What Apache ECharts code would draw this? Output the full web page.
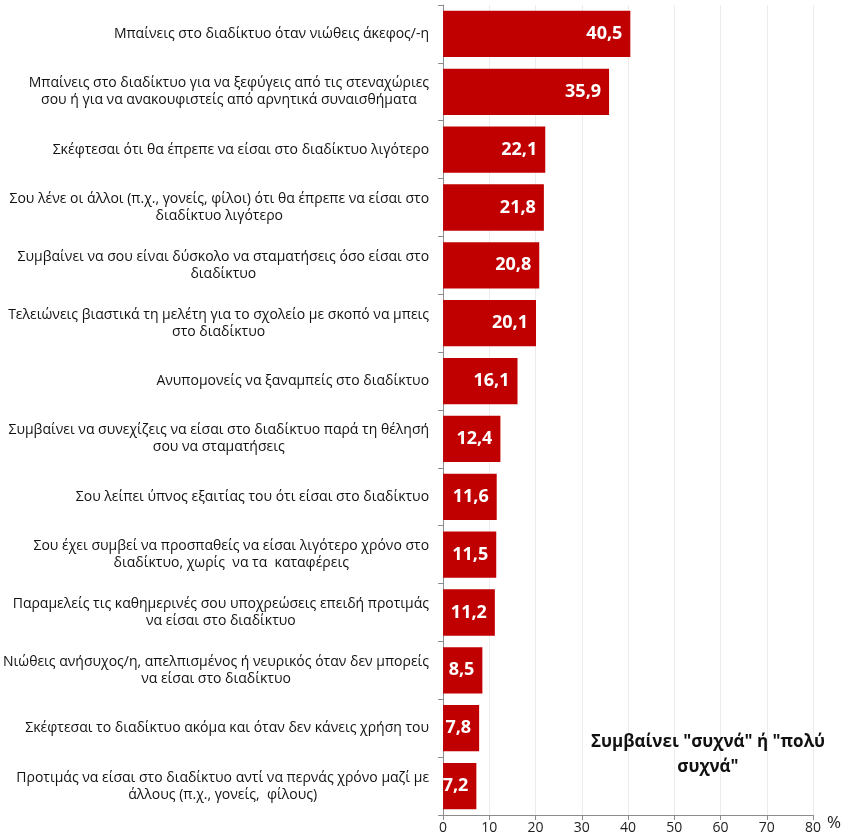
<!DOCTYPE html>
<html>
<head>
<meta charset="utf-8">
<script src="https://cdn.jsdelivr.net/npm/echarts@6/dist/echarts.min.js"></script>
<style>
  html, body { margin: 0; padding: 0; background: #fff; }
  #main { width: 853px; height: 839px; }
</style>
</head>
<body>
<div id="main"></div>
<script>
var categories = [
    'Μπαίνεις στο διαδίκτυο όταν νιώθεις άκεφος/-η',
    'Μπαίνεις στο διαδίκτυο για να ξεφύγεις από τις στεναχώριες\nσου ή για να ανακουφιστείς από αρνητικά συναισθήματα',
    'Σκέφτεσαι ότι θα έπρεπε να είσαι στο διαδίκτυο λιγότερο',
    'Σου λένε οι άλλοι (π.χ., γονείς, φίλοι) ότι θα έπρεπε να είσαι στο\nδιαδίκτυο λιγότερο',
    'Συμβαίνει να σου είναι δύσκολο να σταματήσεις όσο είσαι στο\nδιαδίκτυο',
    'Τελειώνεις βιαστικά τη μελέτη για το σχολείο με σκοπό να μπεις\nστο διαδίκτυο',
    'Ανυπομονείς να ξαναμπείς στο διαδίκτυο',
    'Συμβαίνει να συνεχίζεις να είσαι στο διαδίκτυο παρά τη θέλησή\nσου να σταματήσεις',
    'Σου λείπει ύπνος εξαιτίας του ότι είσαι στο διαδίκτυο',
    'Σου έχει συμβεί να προσπαθείς να είσαι λιγότερο χρόνο στο\nδιαδίκτυο, χωρίς  να τα  καταφέρεις',
    'Παραμελείς τις καθημερινές σου υποχρεώσεις επειδή προτιμάς\nνα είσαι στο διαδίκτυο',
    'Νιώθεις ανήσυχος/η, απελπισμένος ή νευρικός όταν δεν μπορείς\nνα είσαι στο διαδίκτυο',
    'Σκέφτεσαι το διαδίκτυο ακόμα και όταν δεν κάνεις χρήση του',
    'Προτιμάς να είσαι στο διαδίκτυο αντί να περνάς χρόνο μαζί με\nάλλους (π.χ., γονείς,  φίλους)'
];
var values = [40.5, 35.9, 22.1, 21.8, 20.8, 20.1, 16.1, 12.4, 11.6, 11.5, 11.2, 8.5, 7.8, 7.2];
var xTicks = [0, 10, 20, 30, 40, 50, 60, 70, 80];
var note = ['Συμβαίνει "συχνά" ή "πολύ', 'συχνά"'];

var myChart = echarts.init(document.getElementById('main'));

var option = {
    backgroundColor: '#ffffff',
    animation: false,
    grid: { left: 443, right: 40, top: 5, bottom: 24 },
    xAxis: {
        type: 'value',
        min: xTicks[0],
        max: xTicks[xTicks.length - 1],
        interval: 10,
        name: '%',
        nameLocation: 'end',
        nameGap: 9,
        nameTextStyle: { fontFamily: 'Open Sans', fontSize: 17, color: '#222', verticalAlign: 'top', padding: [0, 0, 0, 0] },
        axisLine: { show: true, lineStyle: { color: '#8c8c8c', width: 1 } },
        axisTick: { show: true, length: 5, lineStyle: { color: '#8c8c8c' } },
        axisLabel: { fontFamily: 'Open Sans', fontSize: 14, color: '#222', margin: 6 },
        splitLine: { show: true, lineStyle: { color: '#ececec', width: 1 } }
    },
    yAxis: {
        type: 'category',
        inverse: true,
        data: categories,
        axisLine: { show: true, lineStyle: { color: '#8c8c8c', width: 1 } },
        axisTick: { show: true, length: 5, lineStyle: { color: '#8c8c8c' } },
        axisLabel: {
            margin: 14,
            align: 'right',
            fontFamily: 'Open Sans',
            fontSize: 14,
            color: '#111',
            lineHeight: 17,
            formatter: function (v) {
                return v.split('\n').map(function (s) { return '{c|' + s + '}'; }).join('\n');
            },
            rich: {
                c: { align: 'center', fontFamily: 'Open Sans', fontSize: 14, color: '#111', lineHeight: 17 }
            }
        }
    },
    series: [
        {
            type: 'bar',
            data: values,
            barCategoryGap: '20%',
            itemStyle: { color: '#c00000' },
            label: {
                show: true,
                position: 'insideRight',
                distance: 8,
                color: '#ffffff',
                fontFamily: 'Open Sans',
                fontWeight: 'bold',
                fontSize: 18,
                formatter: function (p) {
                    return p.value.toFixed(1).replace('.', ',');
                }
            }
        }
    ],
    graphic: [
        {
            type: 'text',
            x: 708,
            y: 755,
            z: 100,
            style: {
                text: note.join('\n'),
                align: 'center',
                verticalAlign: 'middle',
                fontFamily: 'Open Sans',
                fontWeight: 'bold',
                fontSize: 17,
                lineHeight: 25,
                fill: '#111'
            }
        }
    ]
};

myChart.setOption(option);
</script>
</body>
</html>
